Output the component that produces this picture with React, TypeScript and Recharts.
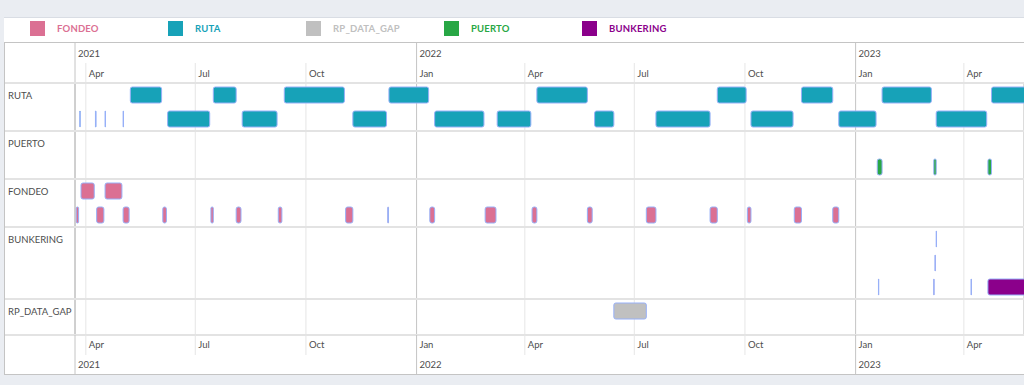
import { BarChart, Bar, XAxis, YAxis, CartesianGrid, Cell } from 'recharts';

const FONT = 'Lato, "Noto Sans", sans-serif';
const TEXT = '#4d4d4d';

// rows of the timeline, top to bottom, and how many stacked lanes each one has
const groupNames = ['RUTA', 'PUERTO', 'FONDEO', 'BUNKERING', 'RP_DATA_GAP'];
const groupLaneCounts = [2, 2, 2, 3, 1];
const groupColors = ['#17a2b8', '#28a745', '#db7093', '#8b008b', '#c0c0c0'];
const legendNames = ['FONDEO', 'RUTA', 'RP_DATA_GAP', 'PUERTO', 'BUNKERING'];

// [start, end, lane]
type Item = [string, string, number];

const rutaItems: Item[] = [
  ['2021-05-08', '2021-06-03', 0],
  ['2021-07-16', '2021-08-04', 0],
  ['2021-09-13', '2021-11-02', 0],
  ['2021-12-09', '2022-01-11', 0],
  ['2022-04-11', '2022-05-23', 0],
  ['2022-09-08', '2022-10-02', 0],
  ['2022-11-17', '2022-12-13', 0],
  ['2023-01-23', '2023-03-05', 0],
  ['2023-04-24', '2023-06-15', 0],
  ['2021-03-27', '2021-03-27T08:00', 1],
  ['2021-04-09', '2021-04-09T12:00', 1],
  ['2021-04-17', '2021-04-17T08:00', 1],
  ['2021-05-02', '2021-05-02T08:00', 1],
  ['2021-06-08', '2021-07-13', 1],
  ['2021-08-09', '2021-09-07', 1],
  ['2021-11-09', '2021-12-07', 1],
  ['2022-01-16', '2022-02-26', 1],
  ['2022-03-09', '2022-04-06', 1],
  ['2022-05-29', '2022-06-14', 1],
  ['2022-07-19', '2022-09-02', 1],
  ['2022-10-06', '2022-11-10', 1],
  ['2022-12-18', '2023-01-18', 1],
  ['2023-03-09', '2023-04-20', 1],
];

const puertoItems: Item[] = [
  ['2023-01-19', '2023-01-23', 1],
  ['2023-03-07', '2023-03-09', 1],
  ['2023-04-21', '2023-04-24', 1],
];

const fondeoItems: Item[] = [
  ['2021-03-28', '2021-04-08', 0],
  ['2021-04-17', '2021-05-01', 0],
  ['2021-03-24', '2021-03-26', 1],
  ['2021-04-10', '2021-04-16', 1],
  ['2021-05-02', '2021-05-07', 1],
  ['2021-06-04', '2021-06-07', 1],
  ['2021-07-14', '2021-07-16', 1],
  ['2021-08-04', '2021-08-08', 1],
  ['2021-09-08', '2021-09-11', 1],
  ['2021-11-03', '2021-11-09', 1],
  ['2021-12-08', '2021-12-08T16:00', 1],
  ['2022-01-12', '2022-01-16', 1],
  ['2022-02-27', '2022-03-08', 1],
  ['2022-04-07', '2022-04-11', 1],
  ['2022-05-23', '2022-05-27', 1],
  ['2022-07-11', '2022-07-19', 1],
  ['2022-09-02', '2022-09-08', 1],
  ['2022-10-03', '2022-10-06', 1],
  ['2022-11-11', '2022-11-17', 1],
  ['2022-12-13', '2022-12-18', 1],
];

const bunkeringItems: Item[] = [
  ['2023-03-09', '2023-03-09T06:00', 0],
  ['2023-03-08', '2023-03-08T06:00', 1],
  ['2023-01-20', '2023-01-20T06:00', 2],
  ['2023-03-07', '2023-03-07T06:00', 2],
  ['2023-04-07', '2023-04-07T06:00', 2],
  ['2023-04-21', '2023-06-15', 2],
];

const dataGapItems: Item[] = [['2022-06-14', '2022-07-11', 0]];

const groupItems = [rutaItems, puertoItems, fondeoItems, bunkeringItems, dataGapItems];

const viewRange = ['2021-03-23', '2023-05-21'];
const tickDates = [
  '2021-04-01', '2021-07-01', '2021-10-01',
  '2022-01-01', '2022-04-01', '2022-07-01', '2022-10-01',
  '2023-01-01', '2023-04-01',
];
const monthNames = ['Jan', 'Feb', 'Mar', 'Apr', 'May', 'Jun', 'Jul', 'Aug', 'Sep', 'Oct', 'Nov', 'Dec'];

const ms = (s: string) => Date.parse(s.length === 10 ? s + 'T00:00:00Z' : s + ':00Z');

const domain = [ms(viewRange[0]), ms(viewRange[1])];
const ticks = tickDates.map(ms);
const axisTicks = [domain[0], ...ticks];
const majorTicks = ticks.filter((t) => new Date(t).getUTCMonth() === 0);
const minorTicks = ticks.filter((t) => new Date(t).getUTCMonth() !== 0);

const lanes = groupNames.flatMap((g, gi) =>
  Array.from({ length: groupLaneCounts[gi] }, (_, li) => ({ key: `${g}|${li}`, group: gi, lane: li })),
);

const chartData = lanes.map(({ key, group, lane }) => {
  const row: Record<string, unknown> = { lane: key };
  groupItems[group]
    .filter((it) => it[2] === lane)
    .forEach((it, k) => {
      row[`s${k}`] = [ms(it[0]), ms(it[1])];
    });
  return row;
});
const slotCount = Math.max(...chartData.map((r) => Object.keys(r).length - 1));

const W = 1020;
const H = 333;
const TOP_H = 41;
const BOTTOM_H = 40;
const LABEL_W = 71;
const MINOR = '#e6e6e6';
const MAJOR = '#c4c4c4';
const SEP = '#e3e3e3';

const yearOf = (v: number) => String(new Date(v).getUTCFullYear());
const monthOf = (v: number) => monthNames[new Date(v).getUTCMonth()];

function TopTick(props: any) {
  const { x, payload } = props;
  const v = payload.value as number;
  const style = { fontFamily: FONT, fontSize: 9.5, fill: TEXT };
  if (v === domain[0]) {
    return (
      <g>
        <line x1={x} x2={x} y1={0} y2={TOP_H} stroke={MAJOR} />
        <text x={x + 3} y={15} style={style}>{yearOf(v)}</text>
      </g>
    );
  }
  const isJan = new Date(v).getUTCMonth() === 0;
  return (
    <g>
      <line x1={x} x2={x} y1={isJan ? 0 : 21} y2={TOP_H} stroke={isJan ? MAJOR : MINOR} />
      {isJan && <text x={x + 3} y={15} style={style}>{yearOf(v)}</text>}
      <text x={x + 3} y={35} style={style}>{monthOf(v)}</text>
    </g>
  );
}

function BottomTick(props: any) {
  const { x, payload } = props;
  const v = payload.value as number;
  const top = H - BOTTOM_H;
  const style = { fontFamily: FONT, fontSize: 9.5, fill: TEXT };
  if (v === domain[0]) {
    return (
      <g>
        <line x1={0} x2={W} y1={top} y2={top} stroke={SEP} strokeWidth={2} />
        <line x1={x} x2={x} y1={top} y2={H} stroke={MAJOR} />
        <text x={x + 3} y={top + 33} style={style}>{yearOf(v)}</text>
      </g>
    );
  }
  const isJan = new Date(v).getUTCMonth() === 0;
  return (
    <g>
      <line x1={x} x2={x} y1={top} y2={isJan ? H : top + 20} stroke={isJan ? MAJOR : MINOR} />
      <text x={x + 3} y={top + 13} style={style}>{monthOf(v)}</text>
      {isJan && <text x={x + 3} y={top + 33} style={style}>{yearOf(v)}</text>}
    </g>
  );
}

function LaneTick(props: any) {
  const { y, payload } = props;
  const [name, idx] = String(payload.value).split('|');
  if (idx !== '0') return null;
  return (
    <g>
      <line x1={0} x2={W} y1={y - 12} y2={y - 12} stroke={SEP} strokeWidth={2} />
      <text x={4} y={y + 4} style={{ fontFamily: FONT, fontSize: 9.5, fill: TEXT }}>{name}</text>
    </g>
  );
}

function LegendBar() {
  return (
    <div
      style={{
        position: 'absolute', left: 4, top: 17, width: 1020, height: 25,
        background: '#fff', borderTop: '1px solid #d9dde4', boxSizing: 'border-box',
      }}
    >
      {legendNames.map((name, i) => {
        const color = groupColors[groupNames.indexOf(name)];
        return (
          <div key={name} style={{ position: 'absolute', left: 26 + i * 138, top: 3, display: 'flex', alignItems: 'center' }}>
            <span style={{ width: 15, height: 15, background: color, display: 'inline-block' }} />
            <span
              style={{
                marginLeft: 12, fontFamily: FONT, fontWeight: 700, fontSize: 9.5, color,
                letterSpacing: 0.2,
              }}
            >
              {name}
            </span>
          </div>
        );
      })}
    </div>
  );
}

export default function App() {
  return (
    <div style={{ position: 'relative', width: 1024, height: 385, overflow: 'hidden', background: '#eaedf2' }}>
      <style>{'body{margin:0}'}</style>
      <LegendBar />
      <div style={{ position: 'absolute', left: 4, top: 42, width: W, height: H, background: '#fff' }}>
        <BarChart
          width={W}
          height={H}
          data={chartData}
          layout="vertical"
          margin={{ top: 0, right: 0, bottom: 0, left: 0 }}
          barSize={16}
          barGap={-16}
          barCategoryGap={0}
        >
          <CartesianGrid xAxisId="minorGrid" horizontal={false} stroke={MINOR} />
          <CartesianGrid xAxisId="majorGrid" horizontal={false} stroke={MAJOR} />
          <XAxis
            xAxisId="top"
            orientation="top"
            type="number"
            domain={domain}
            allowDataOverflow
            ticks={axisTicks}
            interval={0}
            height={TOP_H}
            tick={<TopTick />}
            tickLine={false}
            axisLine={false}
          />
          <XAxis
            xAxisId="bottom"
            orientation="bottom"
            type="number"
            domain={domain}
            allowDataOverflow
            ticks={axisTicks}
            interval={0}
            height={BOTTOM_H}
            tick={<BottomTick />}
            tickLine={false}
            axisLine={false}
          />
          <XAxis xAxisId="minorGrid" type="number" domain={domain} allowDataOverflow ticks={minorTicks} hide />
          <XAxis xAxisId="majorGrid" type="number" domain={domain} allowDataOverflow ticks={majorTicks} hide />
          <YAxis
            type="category"
            dataKey="lane"
            width={LABEL_W}
            padding={{ top: 0, bottom: 12 }}
            interval={0}
            tick={<LaneTick />}
            tickLine={false}
            axisLine={{ stroke: MAJOR }}
          />
          {Array.from({ length: slotCount }, (_, k) => (
            <Bar
              key={k}
              xAxisId="top"
              dataKey={`s${k}`}
              isAnimationActive={false}
              stroke="#97b0f8"
              strokeWidth={1}
              radius={2}
            >
              {lanes.map((l, i) => (
                <Cell key={i} fill={groupColors[l.group]} />
              ))}
            </Bar>
          ))}
        </BarChart>
      </div>
      <div
        style={{
          position: 'absolute', left: 4, top: 42, width: 1030, height: H,
          border: '1px solid #c4c4c4', boxSizing: 'border-box', pointerEvents: 'none',
        }}
      />
    </div>
  );
}
